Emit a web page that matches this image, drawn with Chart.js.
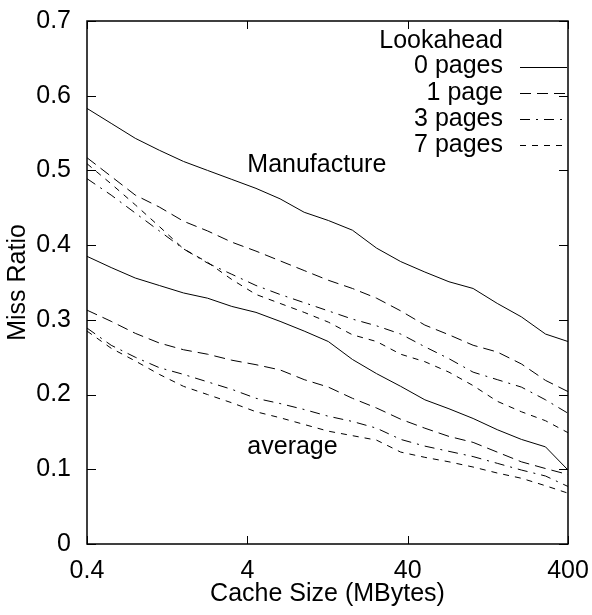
<!DOCTYPE html>
<html>
<head>
<meta charset="utf-8">
<script src="https://cdn.jsdelivr.net/npm/chart.js@4/dist/chart.umd.min.js"></script>
<style>
  html, body { margin: 0; padding: 0; background: #fff; }
  #wrap { width: 592px; height: 615px; }
</style>
</head>
<body>
<div id="wrap"><canvas id="c" width="592" height="615"></canvas></div>
<script>
// ---- data ----
const cacheSizes = [0.4, 0.566, 0.8, 1.13, 1.6, 2.26, 3.2, 4.53, 6.4, 9.05, 12.8, 18.1, 25.6, 36.2, 51.2, 72.4, 102.4, 144.8, 204.8, 289.6, 400];

const manufacture0 = [0.583, 0.563, 0.543, 0.527, 0.512, 0.500, 0.488, 0.476, 0.462, 0.444, 0.433, 0.420, 0.396, 0.378, 0.364, 0.351, 0.342, 0.322, 0.304, 0.281, 0.271];
const manufacture1 = [0.517, 0.492, 0.467, 0.451, 0.432, 0.419, 0.404, 0.392, 0.379, 0.366, 0.353, 0.342, 0.329, 0.312, 0.293, 0.280, 0.266, 0.257, 0.241, 0.219, 0.204];
const manufacture3 = [0.489, 0.467, 0.443, 0.419, 0.395, 0.376, 0.361, 0.346, 0.334, 0.323, 0.312, 0.301, 0.292, 0.281, 0.264, 0.248, 0.230, 0.220, 0.210, 0.193, 0.175];
const manufacture7 = [0.509, 0.482, 0.454, 0.425, 0.395, 0.377, 0.354, 0.334, 0.322, 0.310, 0.297, 0.280, 0.271, 0.254, 0.244, 0.230, 0.212, 0.191, 0.177, 0.165, 0.149];

const average0 = [0.385, 0.370, 0.356, 0.346, 0.336, 0.329, 0.318, 0.310, 0.298, 0.285, 0.271, 0.247, 0.228, 0.211, 0.193, 0.181, 0.168, 0.153, 0.140, 0.130, 0.099];
const average1 = [0.313, 0.298, 0.282, 0.269, 0.260, 0.254, 0.246, 0.240, 0.233, 0.220, 0.210, 0.195, 0.182, 0.167, 0.155, 0.144, 0.136, 0.123, 0.110, 0.101, 0.093];
const average3 = [0.289, 0.266, 0.250, 0.236, 0.227, 0.217, 0.207, 0.195, 0.188, 0.180, 0.171, 0.164, 0.155, 0.140, 0.131, 0.124, 0.117, 0.108, 0.099, 0.091, 0.077];
const average7 = [0.285, 0.262, 0.245, 0.227, 0.211, 0.200, 0.189, 0.177, 0.169, 0.160, 0.151, 0.145, 0.139, 0.123, 0.116, 0.110, 0.103, 0.095, 0.088, 0.078, 0.068];

const xTickValues = [0.4, 4, 40, 400];
const xTickLabels = ['0.4', '4', '40', '400'];
const yTickValues = [0, 0.1, 0.2, 0.3, 0.4, 0.5, 0.6, 0.7];
const yTickLabels = ['0', '0.1', '0.2', '0.3', '0.4', '0.5', '0.6', '0.7'];

const legendTitle = 'Lookahead';
const legendLabels = ['0 pages', '1 page', '3 pages', '7 pages'];
const groupLabels = ['Manufacture', 'average'];
const groupLabelAt = [[4, 0.507], [4, 0.130]];   // data coordinates of the two group labels

// ---- styling ----
const FONT = "'Liberation Sans', Arial, Helvetica, sans-serif";
const FS = 25;
const dashes = [[], [11, 6], [10, 6, 2, 6], [6, 6]];

function pts(arr) { return cacheSizes.map((x, i) => ({ x: x, y: arr[i] })); }
function ds(label, arr, k) {
  return { label: label, data: pts(arr), borderColor: '#000', borderWidth: 1,
           borderDash: dashes[k], pointRadius: 0, tension: 0, fill: false };
}

const datasets = [
  ds('Manufacture ' + legendLabels[0], manufacture0, 0),
  ds('Manufacture ' + legendLabels[1], manufacture1, 1),
  ds('Manufacture ' + legendLabels[2], manufacture3, 2),
  ds('Manufacture ' + legendLabels[3], manufacture7, 3),
  ds('average ' + legendLabels[0], average0, 0),
  ds('average ' + legendLabels[1], average1, 1),
  ds('average ' + legendLabels[2], average3, 2),
  ds('average ' + legendLabels[3], average7, 3)
];

const framePlugin = {
  id: 'frame',
  afterDatasetsDraw(chart) {
    const { ctx, chartArea: a, scales } = chart;
    const x = scales.x, y = scales.y;
    ctx.save();
    ctx.strokeStyle = '#000';
    ctx.setLineDash([]);
    ctx.lineWidth = 1.5;
    ctx.strokeRect(a.left, a.top, a.right - a.left, a.bottom - a.top);
    ctx.lineWidth = 1;
    ctx.beginPath();
    yTickValues.forEach(v => {
      const py = Math.round(y.getPixelForValue(v)) + 0.5;
      ctx.moveTo(a.left, py); ctx.lineTo(a.left + 9, py);
      ctx.moveTo(a.right, py); ctx.lineTo(a.right - 9, py);
    });
    xTickValues.forEach(v => {
      const px = Math.round(x.getPixelForValue(v)) + 0.5;
      ctx.moveTo(px, a.bottom); ctx.lineTo(px, a.bottom - 8);
      ctx.moveTo(px, a.top); ctx.lineTo(px, a.top + 8);
    });
    ctx.stroke();

    // legend (top-right, text right-aligned, sample to the right)
    ctx.fillStyle = '#000';
    ctx.font = FS + 'px ' + FONT;
    ctx.textAlign = 'right';
    ctx.textBaseline = 'middle';
    const tx = a.right - 65;
    ctx.fillText(legendTitle, tx, a.top + 20);
    legendLabels.forEach((lab, i) => {
      const ly = a.top + 45.5 + 26.3 * i;
      ctx.fillText(lab, tx, ly);
      ctx.beginPath();
      ctx.setLineDash(dashes[i]);
      ctx.moveTo(a.right - 48, Math.round(ly) + 0.5);
      ctx.lineTo(a.right - 1, Math.round(ly) + 0.5);
      ctx.stroke();
    });
    ctx.setLineDash([]);

    // group labels
    ctx.textAlign = 'left';
    groupLabels.forEach((t, i) => {
      ctx.fillText(t, x.getPixelForValue(groupLabelAt[i][0]), y.getPixelForValue(groupLabelAt[i][1]));
    });
    ctx.restore();
  }
};

Chart.defaults.font.family = FONT;
Chart.defaults.color = '#000';

new Chart(document.getElementById('c'), {
  type: 'line',
  data: { datasets: datasets },
  options: {
    responsive: false,
    devicePixelRatio: 1,
    animation: false,
    events: [],
    layout: { padding: { left: 0, right: 24, top: 21, bottom: 0 } },
    plugins: { legend: { display: false }, tooltip: { enabled: false } },
    scales: {
      x: {
        type: 'logarithmic',
        position: 'bottom',
        min: 0.4, max: 400,
        grid: { display: false, drawTicks: false },
        border: { display: false },
        afterBuildTicks: s => { s.ticks = xTickValues.map(v => ({ value: v })); },
        afterFit: s => { s.height = 71; s.paddingLeft = 0; s.paddingRight = 0; },
        ticks: {
          autoSkip: false, maxRotation: 0, padding: 12,
          font: { size: FS }, color: '#000',
          callback: (v, i) => xTickLabels[i]
        },
        title: { display: true, text: 'Cache Size (MBytes)', font: { size: FS }, color: '#000',
                 padding: { top: 0, bottom: 6 } }
      },
      y: {
        type: 'linear',
        min: 0, max: 0.7,
        grid: { display: false, drawTicks: false },
        border: { display: false },
        afterBuildTicks: s => { s.ticks = yTickValues.map(v => ({ value: v })); },
        afterFit: s => { s.width = 87; s.paddingTop = 0; s.paddingBottom = 0; },
        ticks: {
          autoSkip: false, padding: 16,
          font: { size: FS }, color: '#000',
          callback: (v, i) => yTickLabels[i]
        },
        title: { display: true, text: 'Miss Ratio', font: { size: FS }, color: '#000',
                 padding: { top: 3, bottom: 0 } }
      }
    }
  },
  plugins: [framePlugin]
});
</script>
</body>
</html>
